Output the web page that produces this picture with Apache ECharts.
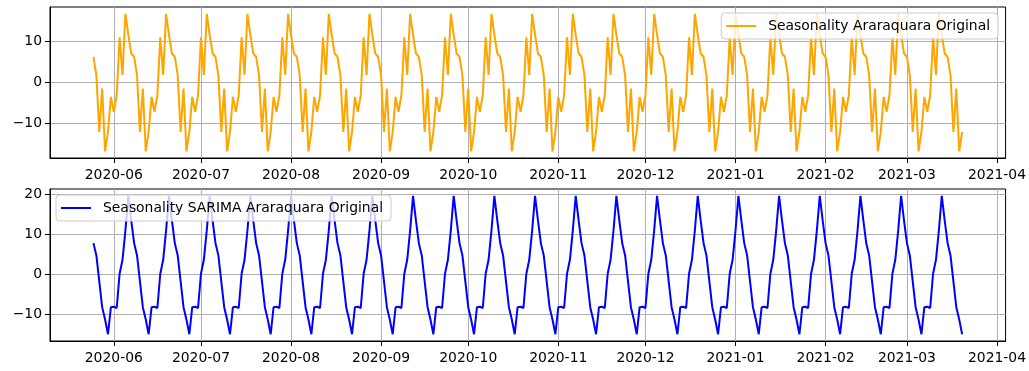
<!DOCTYPE html>
<html>
<head>
<meta charset="utf-8">
<script src="https://cdn.jsdelivr.net/npm/echarts@6/dist/echarts.min.js"></script>
<style>
  html, body { margin: 0; padding: 0; background: #ffffff; }
  #chart { width: 1029px; height: 371px; }
</style>
</head>
<body>
<div id="chart"></div>
<script>
// daily seasonal components, 2020-05-25 .. 2021-03-20 (300 days)
const startDay = Date.UTC(2020, 4, 25);
const dayCount = 300;

// one 14-day cycle (day 0 = 2020-05-25), the seasonal part repeats every cycle
const seasonOriginal = [6.2, 1.7, -12.0, -1.5, -16.7, -12.0, -3.5, -7.1, -3.1, 10.9, 1.8, 16.6, 11.5, 7.0];
const seasonSarima = [7.8, 4.7, -1.8, -8.3, -11.4, -15.1, -8.3, -8.2, -8.5, 0.1, 3.6, 11.0, 19.7, 13.5];

const monthTicks = ['2020-06', '2020-07', '2020-08', '2020-09', '2020-10', '2020-11',
  '2020-12', '2021-01', '2021-02', '2021-03', '2021-04'];
const yTicksTop = [-10, 0, 10];
const yTicksBottom = [-10, 0, 10, 20];

const DAY = 86400000;
const FONT = 'DejaVu Sans';

const tickTimes = monthTicks.map((m) => {
  const [y, mo] = m.split('-').map(Number);
  return Date.UTC(y, mo - 1, 1);
});

const buildSeries = (cycle) => {
  const out = [];
  for (let i = 0; i < dayCount; i++) {
    out.push([startDay + i * DAY, cycle[i % cycle.length]]);
  }
  return out;
};

const fmtMonth = (v) => {
  const d = new Date(v);
  const m = d.getUTCMonth() + 1;
  return d.getUTCFullYear() + '-' + (m < 10 ? '0' + m : m);
};

const gridLine = { show: true, lineStyle: { color: '#b0b0b0', width: 1 } };

// plain value axis holding timestamps, ticks on the first of each month
const xAxisFor = (gridIndex) => ({
  type: 'value',
  gridIndex: gridIndex,
  min: Date.UTC(2020, 4, 10, 1),
  max: Date.UTC(2021, 3, 3, 23),
  axisLine: { show: true, onZero: false, lineStyle: { color: '#000000', width: 1 } },
  axisTick: { show: true, length: 5, customValues: tickTimes, lineStyle: { color: '#000000' } },
  axisLabel: {
    customValues: tickTimes,
    formatter: fmtMonth,
    color: '#000000',
    fontFamily: FONT,
    fontSize: 13.9,
    margin: 10,
    hideOverlap: false,
  },
  splitLine: gridLine,
});

const yAxisFor = (gridIndex, min, max, ticks) => ({
  type: 'value',
  gridIndex: gridIndex,
  min: min,
  max: max,
  axisLine: { show: true, onZero: false, lineStyle: { color: '#000000', width: 1 } },
  axisTick: { show: true, length: 5, customValues: ticks, lineStyle: { color: '#000000' } },
  axisLabel: {
    customValues: ticks,
    formatter: (v) => String(v).replace('-', '\u2212'),
    color: '#000000',
    fontFamily: FONT,
    fontSize: 13.9,
    margin: 8,
  },
  splitLine: gridLine,
});

const legendFor = (name, pos) => Object.assign({
  data: [{ name: name, icon: 'rect' }],
  orient: 'horizontal',
  padding: [6, 8, 6, 5],
  itemWidth: 30,
  itemHeight: 2,
  backgroundColor: 'rgba(255,255,255,0.8)',
  borderColor: '#cccccc',
  borderWidth: 1,
  borderRadius: 4,
  textStyle: { color: '#000000', fontFamily: FONT, fontSize: 13.9, padding: [0, 0, 0, 7] },
}, pos);

const chart = echarts.init(document.getElementById('chart'));

chart.setOption({
  animation: false,
  backgroundColor: '#ffffff',
  grid: [
    { left: 50, right: 23, top: 7, bottom: 213, show: true, borderColor: '#000000', borderWidth: 1, backgroundColor: 'transparent' },
    { left: 50, right: 23, top: 189, bottom: 30, show: true, borderColor: '#000000', borderWidth: 1, backgroundColor: 'transparent' },
  ],
  xAxis: [xAxisFor(0), xAxisFor(1)],
  yAxis: [
    yAxisFor(0, -18.3, 18.25, yTicksTop),
    yAxisFor(1, -16.8, 21.4, yTicksBottom),
  ],
  legend: [
    legendFor('Seasonality Araraquara Original', { right: 31, top: 13 }),
    legendFor('Seasonality SARIMA Araraquara Original', { left: 56, top: 195 }),
  ],
  series: [
    {
      name: 'Seasonality Araraquara Original',
      type: 'line',
      xAxisIndex: 0,
      yAxisIndex: 0,
      data: buildSeries(seasonOriginal),
      symbol: 'none',
      lineStyle: { color: '#ffa500', width: 2 },
      itemStyle: { color: '#ffa500' },
    },
    {
      name: 'Seasonality SARIMA Araraquara Original',
      type: 'line',
      xAxisIndex: 1,
      yAxisIndex: 1,
      data: buildSeries(seasonSarima),
      symbol: 'none',
      lineStyle: { color: '#0000ff', width: 2 },
      itemStyle: { color: '#0000ff' },
    },
  ],
});
</script>
</body>
</html>
